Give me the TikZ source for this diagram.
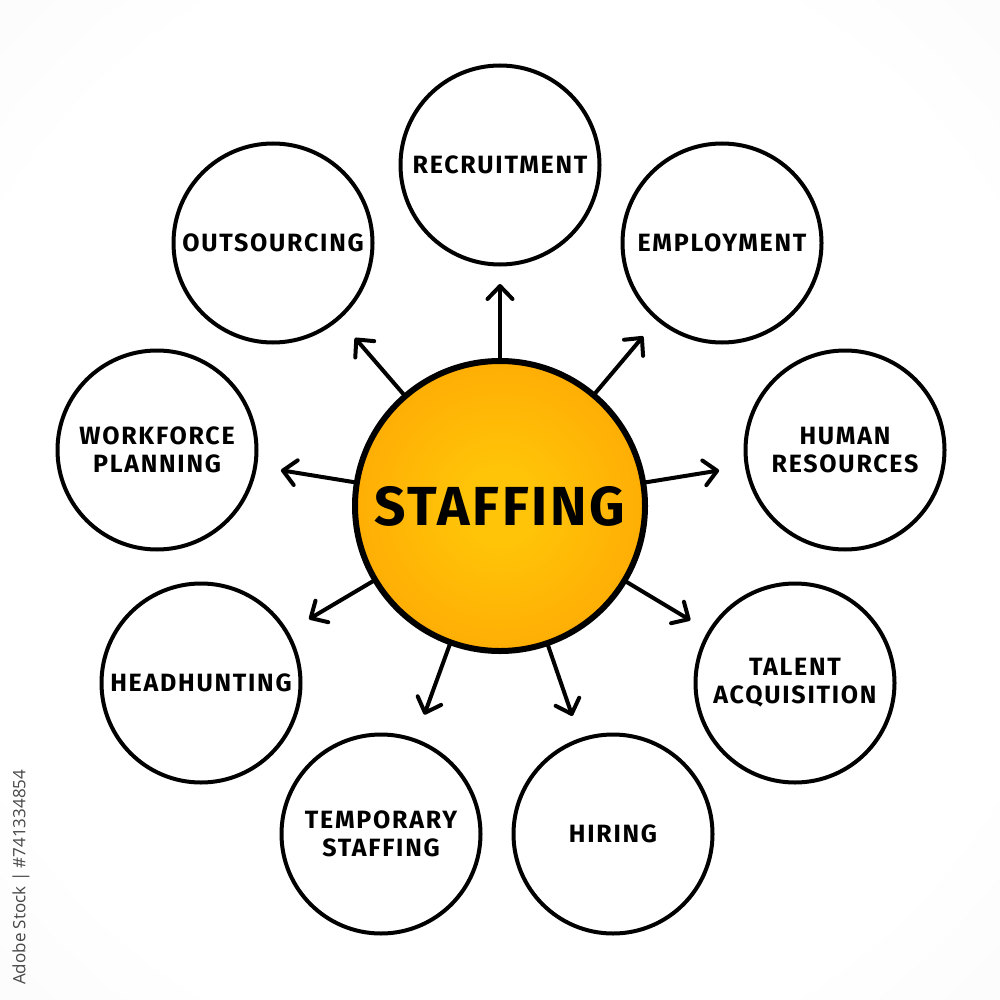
\documentclass[tikz,border=0pt]{standalone}
\usepackage{fontspec}
\setmainfont{Fira Sans}
\newfontfamily\wmfont{Open Sans}
\newfontfamily\labfont{Fira Sans}[LetterSpace=7]
\newfontfamily\hubfont{Fira Sans}[LetterSpace=5]
\usetikzlibrary{arrows.meta,calc}
\definecolor{ballY}{HTML}{FFC408}
\definecolor{ballO}{HTML}{FF9600}
\definecolor{bgG}{HTML}{EBEBEB}
\pgfdeclareradialshading{ballshade}{\pgfpoint{0bp}{0bp}}{color(0bp)=(ballY); color(6bp)=(ballY); color(46bp)=(ballO); color(72bp)=(ballO)}
\pgfdeclareradialshading{bgshade}{\pgfpoint{0bp}{0bp}}{color(0bp)=(white); color(28bp)=(white); color(71bp)=(bgG)}
\begin{document}
\begin{tikzpicture}[x=1pt,y=-1pt,
  topic/.style={circle, draw=black, line width=4pt, fill=white, minimum size=199pt, inner sep=0pt, align=center,
    font=\labfont\fontsize{25}{28}\selectfont\bfseries},
  hub/.style={circle, draw=black, line width=6pt, shade, shading=ballshade, minimum size=290pt, inner sep=0pt,
    font=\hubfont\fontsize{55}{60}\selectfont\bfseries},
  arr/.style={line width=4pt, line cap=round, -{Straight Barb[length=13pt,width=25pt,round]}}]
\path[shade, shading=bgshade] (0,0) rectangle (1000,1000);
\useasboundingbox (0,0) rectangle (1000,1000);

\node[hub] (c) at (500,506) {STAFFING};

\node[topic] (rec) at (500,165) {RECRUITMENT};
\node[topic] (emp) at (722,243) {EMPLOYMENT};
\node[topic] (hr)  at (845,450) {HUMAN\\RESOURCES};
\node[topic] (ta)  at (795,683) {TALENT\\ACQUISITION};
\node[topic] (hir) at (613,834) {HIRING};
\node[topic] (tmp) at (381,834) {TEMPORARY\\STAFFING};
\node[topic] (hh)  at (201,683) {HEADHUNTING};
\node[topic] (wf)  at (157,450) {WORKFORCE\\PLANNING};
\node[topic] (out) at (273,243) {OUTSOURCING};

\foreach \t in {rec,emp,hr,ta,hir,tmp,hh,wf,out}{
  \draw[arr] ($(c)!146pt!(\t)$) -- ($(c)!222pt!(\t)$);
}

\node[rotate=90, anchor=west, inner sep=0pt, font=\wmfont\fontsize{17}{17}\selectfont, text=black!72] (wm) at (21,985) {Adobe Stock | \#741334854};
\end{tikzpicture}
\end{document}
